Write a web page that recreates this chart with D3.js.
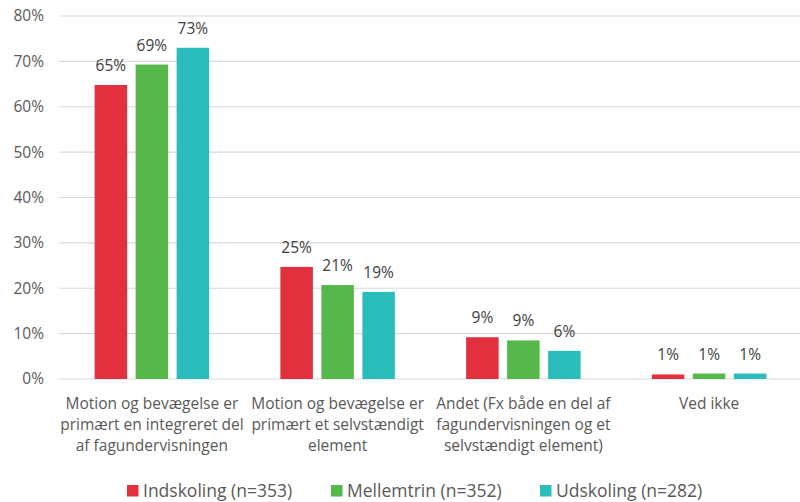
<!DOCTYPE html>
<html><head><meta charset="utf-8">
<script src="https://cdn.jsdelivr.net/npm/d3@7"></script>
<style>body{margin:0;background:#fff}svg{display:block}text{font-family:"Open Sans","Noto Sans",sans-serif}</style>
</head><body><svg id="c" width="800" height="502"></svg>
<script>
const categories = [
  ["Motion og bevægelse er","primært en integreret del","af fagundervisningen"],
  ["Motion og bevægelse er","primært et selvstændigt","element"],
  ["Andet (Fx både en del af","fagundervisningen og et","selvstændigt element)"],
  ["Ved ikke"]
];
const seriesNames = ["Indskoling (n=353)","Mellemtrin (n=352)","Udskoling (n=282)"];
const seriesColors = ["#E3303E","#56B84A","#2BBDBB"];
const indskoling = [64.8, 24.7, 9.2, 1.0];
const mellemtrin = [69.3, 20.7, 8.5, 1.2];
const udskoling  = [73.0, 19.2, 6.2, 1.2];
const labels = [["65%","25%","9%","1%"],["69%","21%","9%","1%"],["73%","19%","6%","1%"]];
const yTicks = [0,10,20,30,40,50,60,70,80];

const series = [indskoling, mellemtrin, udskoling];
const svg = d3.select("#c");
const x = d3.scaleBand().domain(d3.range(categories.length)).range([59, 802]);
const y = d3.scaleLinear().domain([0, 80]).range([379, 16]);
const barW = 32.5, step = 41;
const fs = 15.5;

svg.append("g").selectAll("line").data(yTicks).join("line")
  .attr("x1", 59).attr("x2", 800)
  .attr("y1", d => y(d)).attr("y2", d => y(d))
  .attr("stroke", "#d9d9d9").attr("stroke-width", 1.2);

const yAxis = d3.axisLeft(y).tickValues(yTicks).tickFormat(d => d + "%").tickSize(0).tickPadding(0);
const ga = svg.append("g").attr("transform", "translate(44,0)").call(yAxis);
ga.select(".domain").remove();
ga.selectAll("text").attr("font-size", fs).attr("fill", "#595959")
  .attr("font-family", '"Open Sans","Noto Sans",sans-serif');

series.forEach((vals, s) => {
  const g = svg.append("g");
  g.selectAll("rect").data(vals).join("rect")
    .attr("x", (d, i) => x(i) + x.bandwidth()/2 + (s-1)*step - barW/2)
    .attr("width", barW)
    .attr("y", d => y(d))
    .attr("height", d => y(0) - y(d))
    .attr("fill", seriesColors[s]);
  g.selectAll("text").data(vals).join("text")
    .attr("x", (d, i) => x(i) + x.bandwidth()/2 + (s-1)*step)
    .attr("y", d => y(d) - 14)
    .attr("text-anchor", "middle")
    .attr("font-size", fs).attr("fill", "#404040")
    .text((d, i) => labels[s][i]);
});

categories.forEach((lines, i) => {
  const t = svg.append("text").attr("text-anchor", "middle")
    .attr("font-size", fs).attr("fill", "#595959");
  lines.forEach((ln, k) => {
    t.append("tspan").attr("x", x(i) + x.bandwidth()/2).attr("y", 409 + k*21).text(ln);
  });
});

const legX = [127, 331, 540];
const lg = svg.append("g");
seriesNames.forEach((n, s) => {
  lg.append("rect").attr("x", legX[s]).attr("y", 485).attr("width", 11.5).attr("height", 11.5).attr("fill", seriesColors[s]);
  lg.append("text").attr("x", legX[s] + 16).attr("y", 497).attr("font-size", 17.5).attr("fill", "#595959").text(n);
});
</script></body></html>
